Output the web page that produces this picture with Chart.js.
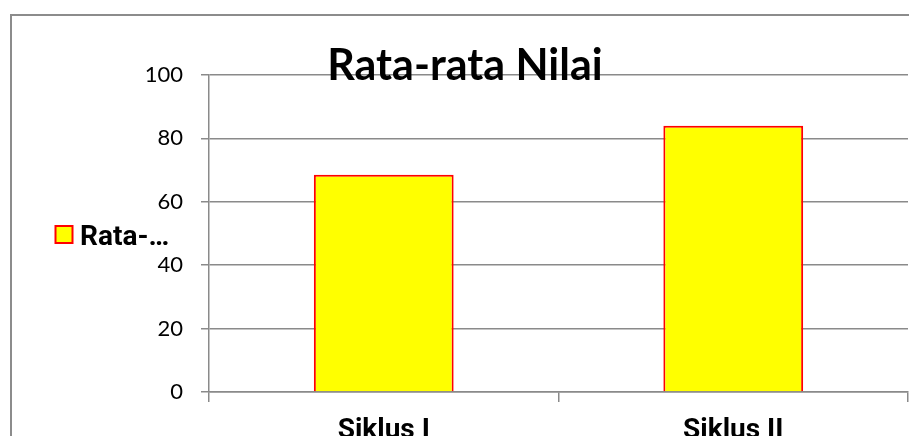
<!DOCTYPE html>
<html>
<head>
<meta charset="utf-8">
<script src="https://cdn.jsdelivr.net/npm/chart.js@4/dist/chart.umd.min.js"></script>
<style>
  html, body { margin: 0; padding: 0; background: #ffffff; }
  #wrap { width: 909px; height: 436px; position: relative; }
</style>
</head>
<body>
<div id="wrap"><canvas id="c"></canvas></div>
<script>
// Average score per cycle
const categories = ['Siklus I', 'Siklus II'];
const averages = [68.5, 84];
const yTickValues = [0, 20, 40, 60, 80, 100];
const chartTitle = 'Rata-rata Nilai';
const seriesLabel = 'Rata-…';

const GRID = '#8a8a8a';

// Frame around the whole chart object
const framePlugin = {
  id: 'frame',
  beforeDraw(chart) {
    const ctx = chart.ctx;
    ctx.save();
    ctx.strokeStyle = '#8c8c8c';
    ctx.lineWidth = 2;
    ctx.strokeRect(11, 15, chart.width + 20, chart.height + 20);
    ctx.restore();
  }
};

// Title drawn over the plot top, and the series key on the left
const overlayPlugin = {
  id: 'overlay',
  afterDraw(chart) {
    const ctx = chart.ctx;
    const ds = chart.data.datasets[0];
    ctx.save();
    ctx.fillStyle = '#000000';
    ctx.font = 'bold 43px Lato';
    ctx.textAlign = 'center';
    ctx.textBaseline = 'alphabetic';
    ctx.fillText(chartTitle, 465, 80);

    const midY = (chart.chartArea.top + chart.chartArea.bottom) / 2;
    ctx.fillStyle = ds.backgroundColor;
    ctx.fillRect(55.5, midY - 7.5, 17, 17);
    ctx.strokeStyle = ds.borderColor;
    ctx.lineWidth = 2;
    ctx.strokeRect(55.5, midY - 7.5, 17, 17);
    ctx.fillStyle = '#000000';
    ctx.font = 'bold 28px Roboto';
    ctx.textAlign = 'left';
    ctx.fillText(ds.label, 80, midY + 11);
    ctx.restore();
  }
};

new Chart(document.getElementById('c'), {
  type: 'bar',
  data: {
    labels: categories,
    datasets: [{
      label: seriesLabel,
      data: averages,
      backgroundColor: '#ffff00',
      borderColor: '#ff0000',
      borderWidth: 2,
      categoryPercentage: 1,
      barPercentage: 0.4
    }]
  },
  options: {
    responsive: true,
    maintainAspectRatio: false,
    animation: false,
    devicePixelRatio: 1,
    layout: { padding: { left: 0, right: 1, top: 75, bottom: 0 } },
    plugins: {
      legend: { display: false },
      title: { display: false },
      tooltip: { enabled: false }
    },
    scales: {
      x: {
        afterFit(scale) { scale.height = 44; },
        grid: {
          display: true,
          drawOnChartArea: false,
          drawTicks: true,
          tickLength: 10,
          color: GRID,
          lineWidth: 1.5
        },
        border: { display: true, color: GRID, width: 1.5 },
        ticks: {
          color: '#000000',
          padding: 12,
          font: { family: 'Roboto', size: 28, weight: 'bold' }
        }
      },
      y: {
        min: 0,
        max: 100,
        afterFit(scale) { scale.width = 209; },
        afterBuildTicks(scale) { scale.ticks = yTickValues.map(v => ({ value: v })); },
        grid: {
          color: GRID,
          lineWidth: 1.5,
          drawTicks: true,
          tickLength: 8
        },
        border: { display: true, color: GRID, width: 1.5 },
        ticks: {
          color: '#000000',
          padding: 18,
          font: { family: 'Lato', size: 22 }
        }
      }
    }
  },
  plugins: [framePlugin, overlayPlugin]
});
</script>
</body>
</html>
